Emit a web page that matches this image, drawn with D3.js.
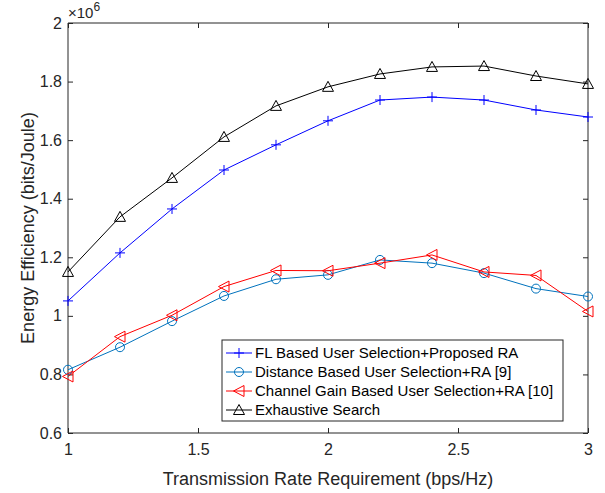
<!DOCTYPE html>
<html>
<head>
<meta charset="utf-8">
<script src="https://cdn.jsdelivr.net/npm/d3@7"></script>
<style>
  body { margin: 0; background: #fff; }
  svg { font-family: "Liberation Sans", Arial, sans-serif; }
</style>
</head>
<body>
<svg id="chart"></svg>
<script>
const width = 605;
const height = 493;

// data (values in units of 1e6 bits/Joule)
const rates = [1, 1.2, 1.4, 1.6, 1.8, 2, 2.2, 2.4, 2.6, 2.8, 3];
const flProposed = [1.051, 1.215, 1.365, 1.498, 1.584, 1.666, 1.737, 1.747, 1.737, 1.703, 1.679];
const distanceRA = [0.816, 0.893, 0.982, 1.068, 1.125, 1.140, 1.191, 1.180, 1.146, 1.093, 1.066];
const channelGainRA = [0.793, 0.929, 1.002, 1.100, 1.155, 1.154, 1.180, 1.208, 1.150, 1.138, 1.015];
const exhaustive = [1.150, 1.338, 1.471, 1.611, 1.717, 1.782, 1.826, 1.850, 1.853, 1.819, 1.792];

const xTicks = [1, 1.5, 2, 2.5, 3];
const yTicks = [0.6, 0.8, 1, 1.2, 1.4, 1.6, 1.8, 2];

const series = [
  { name: "FL Based User Selection+Proposed RA", values: flProposed, color: "#0000ff", marker: "plus" },
  { name: "Distance Based User Selection+RA [9]", values: distanceRA, color: "#0072bd", marker: "circle" },
  { name: "Channel Gain Based User Selection+RA [10]", values: channelGainRA, color: "#ff0000", marker: "triLeft" },
  { name: "Exhaustive Search", values: exhaustive, color: "#000000", marker: "triUp" }
];

const margin = { left: 68, right: 17, top: 23, bottom: 60 };
const axisColor = "#262626";

const svg = d3.select("#chart")
    .attr("width", width)
    .attr("height", height);

const x = d3.scaleLinear().domain([1, 3]).range([margin.left, width - margin.right]);
const y = d3.scaleLinear().domain([0.6, 2]).range([height - margin.bottom, margin.top]);

const tickLen = 5;

// axes (ticks inward, box on)
const gx = svg.append("g")
    .attr("transform", `translate(0,${y(0.6)})`)
    .call(d3.axisBottom(x).tickValues(xTicks).tickSize(-tickLen).tickPadding(11).tickFormat(d3.format("")));
const gxTop = svg.append("g")
    .attr("transform", `translate(0,${y(2)})`)
    .call(d3.axisTop(x).tickValues(xTicks).tickSize(-tickLen).tickFormat(""));
const gy = svg.append("g")
    .attr("transform", `translate(${x(1)},0)`)
    .call(d3.axisLeft(y).tickValues(yTicks).tickSize(-tickLen).tickPadding(6).tickFormat(d3.format("")));
const gyRight = svg.append("g")
    .attr("transform", `translate(${x(3)},0)`)
    .call(d3.axisRight(y).tickValues(yTicks).tickSize(-tickLen).tickFormat(""));

[gx, gxTop, gy, gyRight].forEach(g => {
  g.select(".domain").attr("stroke", axisColor).attr("stroke-width", 1);
  g.selectAll(".tick line").attr("stroke", axisColor);
  g.selectAll(".tick text").attr("fill", axisColor).style("font-size", "16px");
});
// straight domain lines without outer ticks
gx.select(".domain").attr("d", `M${x(1)},0H${x(3)}`);
gxTop.select(".domain").attr("d", `M${x(1)},0H${x(3)}`);
gy.select(".domain").attr("d", `M0,${y(0.6)}V${y(2)}`);
gyRight.select(".domain").attr("d", `M0,${y(0.6)}V${y(2)}`);

// exponent label
const expo = svg.append("text")
    .attr("x", x(1))
    .attr("y", y(2) - 5)
    .attr("fill", axisColor)
    .style("font-size", "15px");
expo.append("tspan").text("\u00d710");
expo.append("tspan").attr("dy", -7).style("font-size", "12px").text("6");

// axis labels
svg.append("text")
    .attr("x", (x(1) + x(3)) / 2)
    .attr("y", height - 8)
    .attr("text-anchor", "middle")
    .attr("fill", axisColor)
    .style("font-size", "18px")
    .text("Transmission Rate Requirement (bps/Hz)");

svg.append("text")
    .attr("transform", `translate(34,${(y(0.6) + y(2)) / 2}) rotate(-90)`)
    .attr("text-anchor", "middle")
    .attr("fill", axisColor)
    .style("font-size", "18px")
    .text("Energy Efficiency (bits/Joule)");

function drawMarker(g, type, cx, cy, color) {
  if (type === "plus") {
    g.append("path").attr("d", `M${cx - 5},${cy}H${cx + 5}M${cx},${cy - 5}V${cy + 5}`)
      .attr("stroke", color).attr("fill", "none");
  } else if (type === "circle") {
    g.append("circle").attr("cx", cx).attr("cy", cy).attr("r", 4.5)
      .attr("stroke", color).attr("fill", "none");
  } else if (type === "triLeft") {
    g.append("path").attr("d", `M${cx - 5.5},${cy}L${cx + 5},${cy - 5.5}L${cx + 5},${cy + 5.5}Z`)
      .attr("stroke", color).attr("fill", "none");
  } else if (type === "triUp") {
    g.append("path").attr("d", `M${cx},${cy - 5.5}L${cx + 5.5},${cy + 4.5}L${cx - 5.5},${cy + 4.5}Z`)
      .attr("stroke", color).attr("fill", "none");
  }
}

const line = d3.line().x((d, i) => x(rates[i])).y(d => y(d));

series.forEach(s => {
  const g = svg.append("g");
  g.append("path")
      .datum(s.values)
      .attr("d", line)
      .attr("fill", "none")
      .attr("stroke", s.color)
      .attr("stroke-width", 1);
  s.values.forEach((v, i) => drawMarker(g, s.marker, x(rates[i]), y(v), s.color));
});

// legend
const lg = svg.append("g");
const lgX = 222, lgY = 340, lgW = 341, lgH = 81, rowH = 19;
lg.append("rect")
    .attr("x", lgX).attr("y", lgY).attr("width", lgW).attr("height", lgH)
    .attr("fill", "#fff").attr("stroke", axisColor);
series.forEach((s, i) => {
  const cy = lgY + 13 + i * rowH;
  lg.append("line")
      .attr("x1", lgX + 4).attr("x2", lgX + 30)
      .attr("y1", cy).attr("y2", cy)
      .attr("stroke", s.color);
  drawMarker(lg, s.marker, lgX + 17, cy, s.color);
  lg.append("text")
      .attr("x", lgX + 33)
      .attr("y", cy + 5)
      .attr("fill", "#000")
      .style("font-size", "15px")
      .text(s.name);
});
</script>
</body>
</html>
